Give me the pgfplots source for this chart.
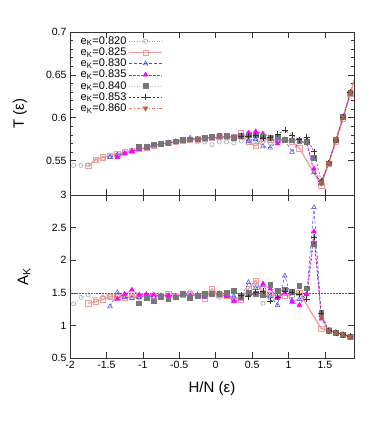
\documentclass[border=0pt]{standalone}
\usepackage{fontspec}
\setmainfont{Liberation Sans}
\usepackage{pgfplots}
\pgfplotsset{compat=1.18}

\definecolor{cA}{HTML}{A0A0A0}
\definecolor{cB}{HTML}{F29B9B}
\definecolor{cC}{HTML}{4444FF}
\definecolor{cD}{HTML}{FF00FF}
\definecolor{cE}{HTML}{777777}
\definecolor{cEl}{HTML}{BBBBBB}
\definecolor{cF}{HTML}{333333}
\definecolor{cG}{HTML}{FF7744}

\pgfplotsset{
  common/.style={
    scale only axis, width=284pt, height=163pt,
    xmin=-2, xmax=1.9,
    xtick={-2,-1.5,-1,-0.5,0,0.5,1,1.5},
    tick align=inside, tick pos=both,
    major tick length=6pt, minor tick length=3pt,
    axis line style={black!80, line width=0.8pt},
    every tick/.style={black!80, line width=0.6pt},
    tick label style={font=\fontsize{10.5}{12}\selectfont},
    /pgf/number format/assume math mode=true,
    /pgf/number format/fixed, /pgf/number format/precision=2,
    clip marker paths=true,
    legend image code/.code={\draw[mark repeat=2,mark phase=2] plot coordinates {(0pt,0pt) (16.5pt,0pt) (33pt,0pt)};},
  },
  sA/.style={cA, line width=0.5pt, dotted, mark=o, mark size=2.1pt, mark options={solid}},
  sB/.style={cB, line width=1.3pt, mark=square, mark size=2.6pt, mark options={solid, line width=0.6pt}},
  sC/.style={cC, line width=0.5pt, densely dashed, mark=triangle, mark size=2.7pt, mark options={solid, line width=0.5pt}},
  sD/.style={cD, line width=0.5pt, dash pattern=on 3pt off 1pt, mark=triangle*, mark size=2.7pt, mark options={solid}},
  sE/.style={cEl, line width=0.6pt, dotted, mark=square*, mark size=2.4pt, mark options={solid, draw=cE, fill=cE}},
  sF/.style={cF, line width=0.5pt, dash pattern=on 2pt off 2pt, mark=+, mark size=3pt, mark options={solid}},
  sG/.style={cG, line width=0.5pt, dash dot, mark=triangle*, mark size=2.7pt, mark options={solid, rotate=180, draw=cG!70!black, fill=cG!80!black}},
}

\begin{document}
\begin{tikzpicture}
\useasboundingbox (0,0) rectangle (374pt,424pt);

% upper panel: T
\begin{axis}[common,
  at={(70pt,229pt)}, anchor=south west,
  ymin=0.51, ymax=0.7,
  ytick={0.55,0.6,0.65,0.7}, minor y tick num=4,
  xticklabels={},
  ylabel={T (ε)},
  every axis y label/.style={at={([xshift=-50pt]axis description cs:0,0.5)}, rotate=90, anchor=center, font=\fontsize{15}{17}\selectfont},
  legend style={at={(0.03,0.985)}, anchor=north west, draw=none, fill=none,
    font=\fontsize{11}{12}\selectfont, row sep=-2pt, inner sep=0pt},
  legend cell align=right, legend plot pos=right,
]
\addplot[sA] coordinates {(-1.95,0.5445) (-1.85,0.5445) (-1.75,0.5452) (-1.65,0.5500) (-1.55,0.5530) (-1.45,0.5550) (-1.35,0.5570) (-1.25,0.5590) (-1.15,0.5610) (-1.05,0.5635) (-0.95,0.5650) (-0.85,0.5675) (-0.75,0.5690) (-0.65,0.5705) (-0.55,0.5715) (-0.45,0.5725) (-0.35,0.5730) (-0.25,0.5718) (-0.15,0.5718) (-0.05,0.5687) (0.05,0.5718) (0.15,0.5718) (0.25,0.5706) (0.35,0.5730) (0.45,0.5738) (0.55,0.5735) (0.65,0.5726) (0.75,0.5706) (0.85,0.5720)};
\addlegendentry{e\textsubscript{K}=0.820}
\addplot[sB] coordinates {(-1.75,0.5440) (-1.65,0.5510) (-1.55,0.5540) (-1.45,0.5560) (-1.35,0.5580) (-1.25,0.5600) (-1.15,0.5615) (-1.05,0.5635) (-0.95,0.5655) (-0.85,0.5680) (-0.75,0.5695) (-0.65,0.5705) (-0.55,0.5720) (-0.45,0.5730) (-0.35,0.5740) (-0.25,0.5750) (-0.15,0.5760) (-0.05,0.5770) (0.05,0.5775) (0.15,0.5780) (0.25,0.5780) (0.35,0.5820) (0.45,0.5720) (0.55,0.5670) (0.65,0.5760) (0.75,0.5745) (0.85,0.5750) (0.95,0.5740) (1.05,0.5725) (1.15,0.5645) (1.45,0.5210) (1.55,0.5465) (1.65,0.5720) (1.75,0.5990) (1.85,0.6280) (1.95,0.6570)};
\addlegendentry{e\textsubscript{K}=0.825}
\addplot[sC] coordinates {(-1.45,0.5540) (-1.35,0.5565) (-1.25,0.5580) (-1.15,0.5610) (-1.05,0.5635) (-0.95,0.5650) (-0.85,0.5675) (-0.75,0.5695) (-0.65,0.5710) (-0.55,0.5725) (-0.45,0.5735) (-0.35,0.5765) (-0.25,0.5750) (-0.15,0.5760) (-0.05,0.5770) (0.05,0.5775) (0.15,0.5775) (0.25,0.5760) (0.35,0.5770) (0.45,0.5730) (0.55,0.5750) (0.65,0.5665) (0.75,0.5650) (0.85,0.5735) (0.95,0.5745) (1.05,0.5600) (1.15,0.5730) (1.25,0.5700) (1.35,0.5365) (1.45,0.5235) (1.55,0.5470) (1.65,0.5740) (1.75,0.6010) (1.85,0.6295)};
\addlegendentry{e\textsubscript{K}=0.830}
\addplot[sD] coordinates {(-1.35,0.5540) (-1.25,0.5585) (-1.15,0.5610) (-1.05,0.5635) (-0.95,0.5650) (-0.85,0.5680) (-0.75,0.5695) (-0.65,0.5705) (-0.55,0.5720) (-0.45,0.5730) (-0.35,0.5740) (-0.25,0.5745) (-0.15,0.5760) (-0.05,0.5770) (0.05,0.5775) (0.15,0.5780) (0.25,0.5775) (0.35,0.5780) (0.45,0.5825) (0.55,0.5840) (0.65,0.5815) (0.75,0.5770) (0.85,0.5700) (0.95,0.5745) (1.05,0.5740) (1.15,0.5730) (1.25,0.5720) (1.35,0.5405) (1.45,0.5230) (1.55,0.5470) (1.65,0.5740) (1.75,0.6010) (1.85,0.6295)};
\addlegendentry{e\textsubscript{K}=0.835}
\addplot[sE] coordinates {(-1.05,0.5659) (-0.95,0.5659) (-0.85,0.5691) (-0.75,0.5699) (-0.65,0.5708) (-0.55,0.5726) (-0.45,0.5746) (-0.35,0.5749) (-0.25,0.5750) (-0.15,0.5765) (-0.05,0.5776) (0.05,0.5788) (0.15,0.5788) (0.25,0.5770) (0.35,0.5788) (0.45,0.5796) (0.55,0.5796) (0.65,0.5785) (0.75,0.5770) (0.85,0.5776) (0.95,0.5746) (1.05,0.5738) (1.15,0.5730) (1.25,0.5718) (1.35,0.5530) (1.45,0.5255) (1.55,0.5470) (1.65,0.5740) (1.75,0.6010) (1.85,0.6295)};
\addlegendentry{e\textsubscript{K}=0.840}
\addplot[sF] coordinates {(0.35,0.5790) (0.45,0.5790) (0.55,0.5800) (0.65,0.5765) (0.75,0.5770) (0.85,0.5810) (0.95,0.5855) (1.05,0.5800) (1.15,0.5745) (1.25,0.5775) (1.35,0.5605) (1.45,0.5260) (1.55,0.5477) (1.65,0.5738) (1.75,0.6011) (1.85,0.6300)};
\addlegendentry{e\textsubscript{K}=0.853}
\addplot[sG] coordinates {(1.45,0.5245) (1.55,0.5472) (1.65,0.5742) (1.75,0.6012) (1.85,0.6300) (1.95,0.6580)};
\addlegendentry{e\textsubscript{K}=0.860}
\end{axis}

% lower panel: A_K
\begin{axis}[common,
  at={(70pt,66pt)}, anchor=south west,
  ymin=0.5, ymax=3,
  ytick={0.5,1,1.5,2,2.5,3},
  xlabel={H/N (ε)}, ylabel={A\textsubscript{K}},
  every axis x label/.style={at={([yshift=-31pt]axis description cs:0.5,0)}, anchor=center, font=\fontsize{15}{17}\selectfont},
  every axis y label/.style={at={([xshift=-46pt]axis description cs:0,0.5)}, rotate=90, anchor=center, font=\fontsize{15}{17}\selectfont},
]
\addplot[cC, line width=0.5pt, densely dotted, forget plot] coordinates {(-2,1.5) (1.9,1.5)};
\addplot[sA] coordinates {(-1.95,1.33) (-1.85,1.43) (-1.75,1.47) (-1.65,1.40) (-1.55,1.43) (-1.45,1.44) (-1.35,1.45) (-1.25,1.44) (-1.15,1.47) (-1.05,1.42) (-0.95,1.46) (-0.85,1.44) (-0.75,1.45) (-0.65,1.43) (-0.55,1.42) (-0.45,1.47) (-0.35,1.515) (-0.25,1.45) (-0.15,1.44) (-0.05,1.49) (0.05,1.43) (0.15,1.47) (0.25,1.44) (0.35,1.42) (0.45,1.50) (0.55,1.60) (0.65,1.34) (0.75,1.45) (0.85,1.48)};
\addplot[sB] coordinates {(-1.75,1.34) (-1.65,1.36) (-1.55,1.40) (-1.45,1.44) (-1.35,1.43) (-1.25,1.43) (-1.15,1.44) (-1.05,1.45) (-0.95,1.44) (-0.85,1.46) (-0.75,1.45) (-0.65,1.48) (-0.55,1.46) (-0.45,1.47) (-0.35,1.48) (-0.25,1.46) (-0.15,1.41) (-0.05,1.56) (0.05,1.47) (0.15,1.46) (0.25,1.39) (0.35,1.40) (0.45,1.56) (0.55,1.69) (0.65,1.50) (0.75,1.47) (0.85,1.45) (0.95,1.46) (1.05,1.47) (1.15,1.50) (1.45,0.95) (1.55,0.93) (1.65,0.89) (1.75,0.86) (1.85,0.82) (1.95,0.79)};
\addplot[sC] coordinates {(-1.45,1.29) (-1.35,1.505) (-1.25,1.43) (-1.15,1.42) (-1.05,1.43) (-0.95,1.45) (-0.85,1.44) (-0.75,1.46) (-0.65,1.45) (-0.55,1.45) (-0.45,1.48) (-0.35,1.46) (-0.25,1.47) (-0.15,1.44) (-0.05,1.48) (0.05,1.49) (0.15,1.45) (0.25,1.44) (0.35,1.43) (0.45,1.66) (0.55,1.57) (0.65,1.62) (0.75,1.45) (0.85,1.31) (0.95,1.76) (1.05,1.38) (1.15,1.40) (1.25,1.48) (1.35,2.81) (1.45,1.15) (1.55,0.92) (1.65,0.89) (1.75,0.86) (1.85,0.83)};
\addplot[sD] coordinates {(-1.35,1.41) (-1.25,1.48) (-1.15,1.545) (-1.05,1.47) (-0.95,1.48) (-0.85,1.47) (-0.75,1.45) (-0.65,1.46) (-0.55,1.45) (-0.45,1.46) (-0.35,1.45) (-0.25,1.47) (-0.15,1.44) (-0.05,1.49) (0.05,1.48) (0.15,1.45) (0.25,1.37) (0.35,1.41) (0.45,1.47) (0.55,1.48) (0.65,1.64) (0.75,1.56) (0.85,1.42) (0.95,1.50) (1.05,1.36) (1.15,1.31) (1.25,1.48) (1.35,2.44) (1.45,1.10) (1.55,0.92) (1.65,0.89) (1.75,0.86) (1.85,0.83)};
\addplot[sE] coordinates {(-1.05,1.34) (-0.95,1.42) (-0.85,1.37) (-0.75,1.44) (-0.65,1.40) (-0.55,1.43) (-0.45,1.48) (-0.35,1.42) (-0.25,1.45) (-0.15,1.48) (-0.05,1.485) (0.05,1.48) (0.15,1.505) (0.25,1.535) (0.35,1.455) (0.45,1.505) (0.55,1.485) (0.65,1.47) (0.75,1.62) (0.85,1.535) (0.95,1.555) (1.05,1.52) (1.15,1.61) (1.25,1.57) (1.35,2.25) (1.45,1.20) (1.55,0.92) (1.65,0.89) (1.75,0.86) (1.85,0.83)};
\addplot[sF] coordinates {(0.35,1.47) (0.45,1.44) (0.55,1.505) (0.65,1.52) (0.75,1.37) (0.85,1.43) (0.95,1.52) (1.05,1.505) (1.15,1.485) (1.25,1.40) (1.35,2.35) (1.45,1.19) (1.55,0.92) (1.65,0.89) (1.75,0.86) (1.85,0.83)};
\addplot[sG] coordinates {(1.45,1.13) (1.55,0.92) (1.65,0.89) (1.75,0.86) (1.85,0.83) (1.95,0.80)};
\end{axis}
\end{tikzpicture}
\end{document}
